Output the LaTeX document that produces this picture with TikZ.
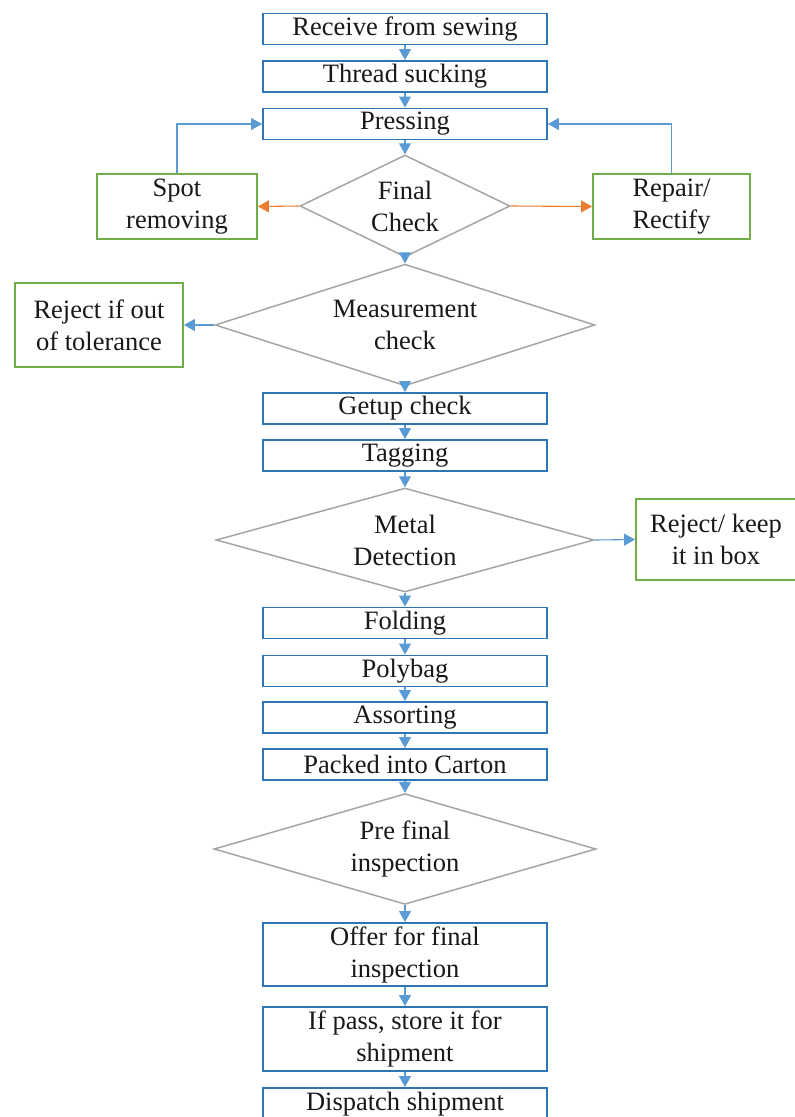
\documentclass[tikz,border=0pt]{standalone}
\usepackage{fontspec}
\setmainfont{Liberation Serif}
\usetikzlibrary{shapes.geometric,arrows.meta}
\definecolor{boxblue}{HTML}{2E75B6}
\definecolor{arrowblue}{HTML}{5B9BD5}
\definecolor{okgreen}{HTML}{70AD47}
\definecolor{diagray}{HTML}{A5A5A5}
\definecolor{warnorange}{HTML}{ED7D31}

\begin{document}
\begin{tikzpicture}[x=1pt,y=-1pt,
  every node/.style={font=\fontsize{26.5}{32}\selectfont, text=black!90, align=center, inner sep=0pt},
  stepbox/.style={draw=boxblue, line width=1.9pt, fill=white, minimum width=284pt, minimum height=31pt},
  sidebox/.style={draw=okgreen, line width=1.9pt, fill=white},
  decision/.style={diamond, draw=diagray, line width=1.5pt, fill=white, aspect=2},
  flow/.style={draw=arrowblue, line width=1.1pt, -{Triangle[length=11pt,width=12pt]}},
  branch/.style={draw=warnorange, line width=1.1pt, -{Triangle[length=11pt,width=12pt]}}
]
\useasboundingbox (0,0) rectangle (795,1117);

% main process column
\node[stepbox] (recv)   at (405,29)    {Receive from sewing};
\node[stepbox] (thread) at (405,76.5)  {Thread sucking};
\node[stepbox] (press)  at (405,124)   {Pressing};
\node[decision, minimum width=210pt, minimum height=102pt] (final) at (405,206) {Final\\Check};
\node[decision, minimum width=380pt, minimum height=104pt] (meas) at (405,325) {Measurement\\check};
\node[stepbox] (getup)  at (405,408.5) {Getup check};
\node[stepbox] (tag)    at (405,455.5) {Tagging};
\node[decision, minimum width=378pt, minimum height=104pt] (metal) at (405,540) {Metal\\Detection};
\node[stepbox] (fold)   at (405,623)   {Folding};
\node[stepbox] (poly)   at (405,671)   {Polybag};
\node[stepbox] (assort) at (405,717.5) {Assorting};
\node[stepbox] (packed) at (405,764.5) {Packed into Carton};
\node[decision, minimum width=382pt, minimum height=104pt] (pre) at (405,849) {Pre final\\inspection};
\node[stepbox, minimum height=63pt] (offer) at (405,954.5) {Offer for final\\inspection};
\node[stepbox, minimum height=64pt] (store) at (405,1039) {If pass, store it for\\shipment};
\node[stepbox, minimum height=32pt] (ship) at (405,1104) {Dispatch shipment};

% side branches
\node[sidebox, minimum width=160pt, minimum height=65pt] (spot)   at (177,206.5) {Spot\\removing};
\node[sidebox, minimum width=157pt, minimum height=65pt] (repair) at (671.5,206.5) {Repair/\\Rectify};
\node[sidebox, minimum width=168pt, minimum height=84pt] (tol)    at (99,325) {Reject if out\\of tolerance};
\node[sidebox, minimum width=160pt, minimum height=81pt] (keep)   at (716,539.5) {Reject/ keep\\it in box};

% main flow arrows
\draw[flow] (recv.south) -- (thread.north);
\draw[flow] (thread.south) -- (press.north);
\draw[flow] (press.south) -- (final.north);
\draw[flow] (final.south) -- (meas.north);
\draw[flow] (meas.south) -- (getup.north);
\draw[flow] (getup.south) -- (tag.north);
\draw[flow] (tag.south) -- (metal.north);
\draw[flow] (metal.south) -- (fold.north);
\draw[flow] (fold.south) -- (poly.north);
\draw[flow] (poly.south) -- (assort.north);
\draw[flow] (assort.south) -- (packed.north);
\draw[flow] (packed.south) -- (pre.north);
\draw[flow] (pre.south) -- (offer.north);
\draw[flow] (offer.south) -- (store.north);
\draw[flow] (store.south) -- (ship.north);

% branch arrows
\draw[branch] (final.west) -- (spot.east);
\draw[branch] (final.east) -- (repair.west);
\draw[flow] (spot.north) |- (press.west);
\draw[flow] (repair.north) |- (press.east);
\draw[flow] (meas.west) -- (tol.east);
\draw[flow] (metal.east) -- (keep.west);
\end{tikzpicture}
\end{document}
